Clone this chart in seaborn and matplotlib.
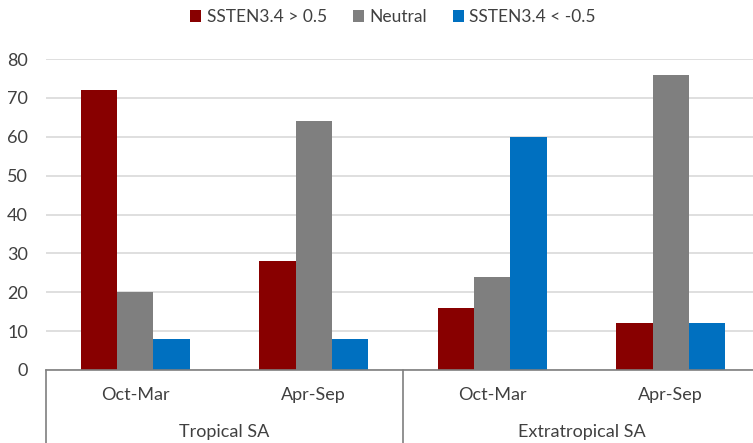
import pandas as pd
import numpy as np
import matplotlib.pyplot as plt
import matplotlib.transforms as mtransforms
import seaborn as sns

# Chart values
regions = ['Tropical SA', 'Tropical SA', 'Extratropical SA', 'Extratropical SA']
seasons = ['Oct-Mar', 'Apr-Sep', 'Oct-Mar', 'Apr-Sep']
series_names = ['SSTEN3.4 > 0.5', 'Neutral', 'SSTEN3.4 < -0.5']
warm = [72, 28, 16, 12]
neutral = [20, 64, 24, 76]
cold = [8, 8, 60, 12]
y_ticks = [0, 10, 20, 30, 40, 50, 60, 70, 80]

colors = ['#880000', '#7F7F7F', '#0070C0']
text_color = '#404040'

# Long-form table for seaborn
cats = [f'{r}|{s}' for r, s in zip(regions, seasons)]
rows = []
for name, vals in zip(series_names, [warm, neutral, cold]):
    for c, v in zip(cats, vals):
        rows.append({'cat': c, 'series': name, 'value': v})
df = pd.DataFrame(rows)

sns.set_theme(style='white')
plt.rcParams['font.family'] = ['Lato', 'DejaVu Sans']

fig = plt.figure(figsize=(7.53, 4.43), dpi=100)
ax = fig.add_axes([46 / 753, 73 / 443, 714 / 753, 311 / 443])

sns.barplot(data=df, x='cat', y='value', hue='series', order=cats,
            hue_order=series_names, palette=colors, saturation=1,
            width=0.61, errorbar=None, linewidth=0, ax=ax, zorder=2)

ax.set_ylim(0, 80)
ax.set_xlim(-0.5, 3.5)
ax.set_yticks(y_ticks)
ax.yaxis.grid(True, color='#D9D9D9', linewidth=1.2, zorder=0)
ax.set_axisbelow(True)
for side in ['left', 'right', 'top']:
    ax.spines[side].set_visible(False)
ax.spines['bottom'].set_color('#7F7F7F')
ax.spines['bottom'].set_linewidth(1.2)

ax.set_xlabel('')
ax.set_ylabel('')
ax.set_xticks(range(len(cats)))
ax.set_xticklabels(seasons)
ax.tick_params(axis='x', length=0, pad=12, labelsize=13, labelcolor=text_color)
ax.tick_params(axis='y', length=0, pad=13, labelsize=13, labelcolor=text_color)

# Multi-level category axis: separators and group labels
trans = mtransforms.blended_transform_factory(ax.transData, ax.transAxes)
for xb in [-0.5, 1.5, 3.5]:
    ax.plot([xb, xb], [0, -0.3], transform=trans, color='#7F7F7F',
            linewidth=1.2, clip_on=False)
for xc, name in [(0.5, 'Tropical SA'), (2.5, 'Extratropical SA')]:
    ax.text(xc, -0.2, name, transform=trans, ha='center', va='center',
            fontsize=13, color=text_color)

# Legend on top
handles, labels = ax.get_legend_handles_labels()
ax.legend_.remove()
fig.legend(handles, labels, loc='center', bbox_to_anchor=(0.522, 0.962),
           ncol=3, frameon=False, fontsize=12.5, handlelength=0.65,
           handleheight=0.65, handletextpad=0.3, columnspacing=1.5,
           labelcolor=text_color)

fig.savefig('out.png', dpi=100)
